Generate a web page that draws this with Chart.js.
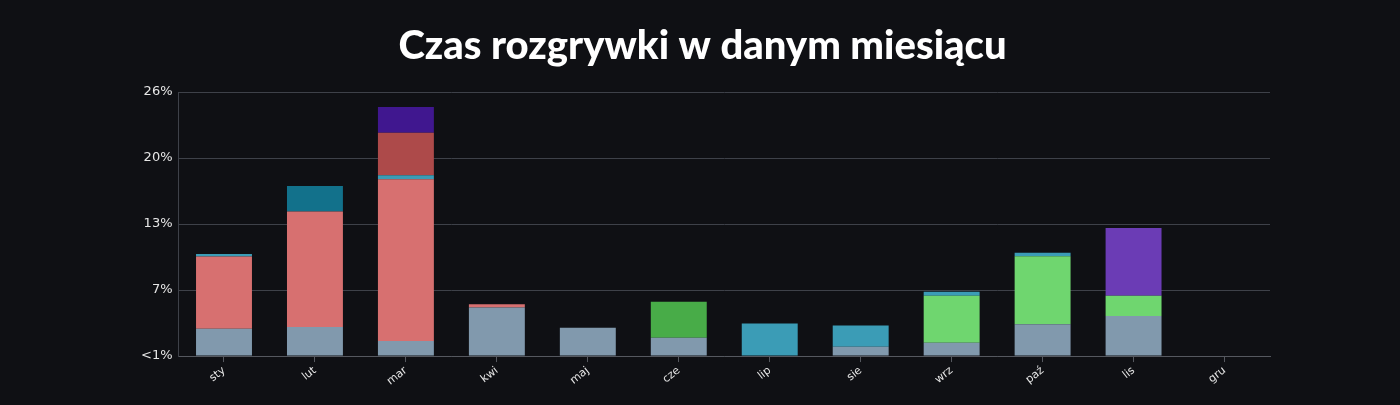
<!DOCTYPE html>
<html>
<head>
<meta charset="utf-8">
<script src="https://cdn.jsdelivr.net/npm/chart.js@4"></script>
<style>
html,body{margin:0;padding:0;background:#0f1014;}
#wrap{width:1400px;height:405px;}
</style>
</head>
<body>
<div id="wrap"><canvas id="c" width="1400" height="405"></canvas></div>
<script>
const months = ["sty","lut","mar","kwi","maj","cze","lip","sie","wrz","paź","lis","gru"];
const yTicks = [0, 6.5, 13, 19.5, 26];
const yTickLabels = ["<1%", "7%", "13%", "20%", "26%"];

const greyVals      = [2.7, 2.87, 1.48, 4.78, 2.8, 1.81, 0, 0.92, 1.32, 3.13, 3.95, 0];
const salmonVals    = [7.1, 11.37, 15.92, 0.33, 0, 0, 0, 0, 0, 0, 0, 0];
const lightGreenVals= [0, 0, 0, 0, 0, 0, 0, 0, 4.61, 6.69, 1.98, 0];
const cyanVals      = [0.25, 0, 0.4, 0, 0, 0, 3.2, 2.08, 0.4, 0.36, 0, 0];
const darkTealVals  = [0, 2.5, 0, 0, 0, 0, 0, 0, 0, 0, 0, 0];
const darkRedVals   = [0, 0, 4.18, 0, 0, 0, 0, 0, 0, 0, 0, 0];
const indigoVals    = [0, 0, 2.54, 0, 0, 0, 0, 0, 0, 0, 0, 0];
const greenVals     = [0, 0, 0, 0, 0, 3.53, 0, 0, 0, 0, 0, 0];
const purpleVals    = [0, 0, 0, 0, 0, 0, 0, 0, 0, 0, 6.69, 0];

const series = [
  {data: greyVals, color: "#8199ad"},
  {data: salmonVals, color: "#d77070"},
  {data: lightGreenVals, color: "#6fd66f"},
  {data: cyanVals, color: "#3b9cb6"},
  {data: darkTealVals, color: "#12718b"},
  {data: darkRedVals, color: "#ad4a4a"},
  {data: indigoVals, color: "#40178f"},
  {data: greenVals, color: "#48ac48"},
  {data: purpleVals, color: "#6b3cb5"}
];

new Chart(document.getElementById("c"), {
  type: "bar",
  data: {
    labels: months,
    datasets: series.map(s => ({
      data: s.data,
      backgroundColor: s.color,
      borderWidth: 0,
      categoryPercentage: 1,
      barPercentage: 0.615
    }))
  },
  options: {
    responsive: false,
    animation: false,
    layout: {padding: {left: 135, right: 130, top: 0, bottom: 15}},
    plugins: {
      legend: {display: false},
      tooltip: {enabled: false},
      title: {
        display: true,
        text: "Czas rozgrywki w danym miesiącu",
        color: "#ffffff",
        font: {family: "Lato", size: 40, weight: "900"},
        padding: {top: 22, bottom: 22}
      }
    },
    scales: {
      x: {
        stacked: true,
        grid: {display: true, drawOnChartArea: false, offset: false, color: "#55585f", tickLength: 6},
        border: {display: true, color: "#55585f"},
        ticks: {color: "#e6e6e6", font: {family: "DejaVu Sans", size: 11}, minRotation: 38, maxRotation: 38, padding: 2}
      },
      y: {
        stacked: true,
        min: 0,
        max: 26,
        afterBuildTicks: axis => { axis.ticks = yTicks.map(v => ({value: v})); },
        grid: {color: "#3e4149", drawTicks: false},
        border: {display: true, color: "#3e4149"},
        ticks: {
          color: "#e6e6e6",
          font: {family: "DejaVu Sans", size: 13},
          padding: 6,
          callback: (v) => { const i = yTicks.indexOf(v); return i >= 0 ? yTickLabels[i] : ""; }
        }
      }
    }
  }
});
</script>
</body>
</html>
